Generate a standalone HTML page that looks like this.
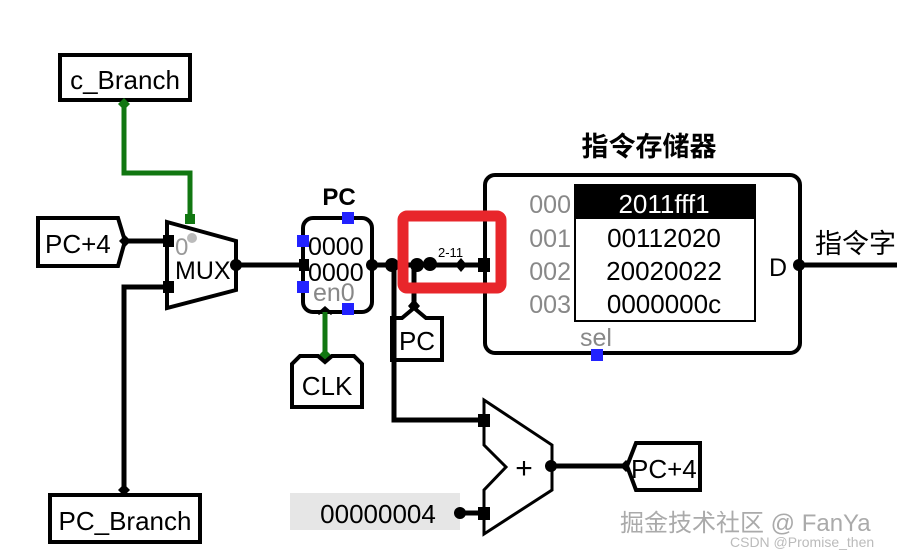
<!DOCTYPE html>
<html><head><meta charset="utf-8"><style>
html,body{margin:0;padding:0;background:#fff;width:897px;height:557px;overflow:hidden}
text{font-family:"Liberation Sans","Noto Sans CJK SC",sans-serif}
</style></head><body>
<svg width="897" height="557" viewBox="0 0 897 557" xmlns="http://www.w3.org/2000/svg">
<!-- c_Branch -->
<rect x="60" y="55" width="130" height="45" fill="#fff" stroke="#000" stroke-width="4"/>
<text x="125" y="89" font-size="26" text-anchor="middle">c_Branch</text>
<polyline points="124,103 124,173 190,173 190,220" fill="none" stroke="#117711" stroke-width="5"/>
<polygon points="124,98 130,104 124,110 118,104" fill="#117711"/>
<rect x="185" y="214" width="10" height="10" fill="#117711"/>
<!-- PC+4 left -->
<polygon points="38,218 118,218 125,241 118,266 38,266" fill="#fff" stroke="#000" stroke-width="4"/>
<text x="45" y="253" font-size="26">PC+4</text>
<line x1="125" y1="241" x2="170" y2="241" stroke="#000" stroke-width="5"/>
<polygon points="125,235 131,241 125,247 119,241" fill="#000"/>
<!-- MUX -->
<polygon points="167,222 236,241 236,290 167,308" fill="#fff" stroke="#000" stroke-width="4"/>
<rect x="163" y="235" width="11" height="12" fill="#000"/>
<rect x="163" y="281" width="11" height="12" fill="#000"/>
<text x="175" y="255" font-size="24" fill="#999">0</text>
<circle cx="192" cy="238" r="5" fill="#bbb"/>
<text x="175" y="279" font-size="25">MUX</text>
<polyline points="168,287 124,287 124,492" fill="none" stroke="#000" stroke-width="5"/>
<polygon points="124,484 130,490 124,496 118,490" fill="#000"/>
<rect x="50" y="495" width="150" height="47" fill="#fff" stroke="#000" stroke-width="4"/>
<text x="125" y="530" font-size="26" text-anchor="middle">PC_Branch</text>
<line x1="236" y1="265" x2="305" y2="265" stroke="#000" stroke-width="5"/>
<circle cx="236" cy="265" r="6" fill="#000"/>
<!-- PC register -->
<text x="339" y="205" font-size="24" font-weight="bold" text-anchor="middle">PC</text>
<rect x="303" y="218" width="69" height="94" rx="10" fill="#fff" stroke="#000" stroke-width="4"/>
<rect x="299" y="259" width="10" height="12" fill="#000"/>
<text x="308" y="255" font-size="25">0000</text>
<text x="308" y="281" font-size="25">0000</text>
<text x="313" y="301" font-size="25" fill="#888">en0</text>
<rect x="342" y="212" width="12" height="12" fill="#2222ff"/>
<rect x="297" y="235" width="12" height="12" fill="#2222ff"/>
<rect x="297" y="281" width="12" height="12" fill="#2222ff"/>
<rect x="342" y="303" width="12" height="12" fill="#2222ff"/>
<polyline points="318,314 325,308 332,314" fill="none" stroke="#000" stroke-width="3"/>
<line x1="325" y1="312" x2="325" y2="355" stroke="#117711" stroke-width="5"/>
<polygon points="325,349 331,355 325,361 319,355" fill="#117711"/>
<polygon points="292,407 292,364 300,356 318,356 325,362 332,356 354,356 362,364 362,407" fill="#fff" stroke="#000" stroke-width="4"/>
<text x="327" y="395" font-size="26" text-anchor="middle">CLK</text>
<!-- wire to memory -->
<line x1="372" y1="265" x2="486" y2="265" stroke="#000" stroke-width="5"/>
<circle cx="372" cy="265" r="6" fill="#000"/>
<circle cx="392" cy="265" r="7" fill="#000"/>
<circle cx="417" cy="265" r="7" fill="#000"/>
<circle cx="430" cy="264" r="7" fill="#000"/>
<polygon points="461,258 467,265 461,272 455,265" fill="#000"/>
<rect x="478" y="258" width="12" height="14" fill="#000"/>
<text x="438" y="257" font-size="13">2-11</text>
<line x1="414" y1="265" x2="414" y2="305" stroke="#000" stroke-width="5"/>
<polygon points="414,299 420,306 414,313 408,306" fill="#000"/>
<polygon points="392,360 392,318 402,318 414,308 426,318 442,318 442,360" fill="#fff" stroke="#000" stroke-width="4"/>
<text x="417" y="350" font-size="26" text-anchor="middle">PC</text>
<polyline points="394,265 394,420 486,420" fill="none" stroke="#000" stroke-width="5"/>
<!-- memory -->
<text x="649" y="156" font-size="27" font-weight="bold" text-anchor="middle">指令存储器</text>
<rect x="485" y="175" width="315" height="178" rx="10" fill="none" stroke="#000" stroke-width="4"/>
<rect x="575" y="185" width="180" height="136" fill="#fff" stroke="#000" stroke-width="2"/>
<rect x="575" y="185" width="180" height="34" fill="#000"/>
<g font-size="26" text-anchor="middle">
<text x="664" y="213" fill="#fff">2011fff1</text>
<text x="664" y="247">00112020</text>
<text x="664" y="280">20020022</text>
<text x="664" y="313">0000000c</text>
</g>
<g font-size="25" fill="#888" text-anchor="end">
<text x="571" y="213">000</text>
<text x="571" y="247">001</text>
<text x="571" y="280">002</text>
<text x="571" y="313">003</text>
</g>
<text x="596" y="346" font-size="25" fill="#888" text-anchor="middle">sel</text>
<rect x="591" y="349" width="12" height="12" fill="#2222ff"/>
<text x="769" y="276" font-size="25">D</text>
<line x1="800" y1="265" x2="897" y2="265" stroke="#000" stroke-width="5"/>
<circle cx="799" cy="265" r="6" fill="#000"/>
<text x="815" y="253" font-size="27">指令字</text>
<!-- red highlight -->
<rect x="403" y="216" width="98" height="72" rx="4" fill="none" stroke="#e8262b" stroke-width="11"/>
<!-- adder -->
<polygon points="484,400 552,445 552,490 484,534 484,490 506,467 484,445" fill="#fff" stroke="#000" stroke-width="3"/>
<rect x="478" y="414" width="12" height="13" fill="#000"/>
<rect x="478" y="507" width="12" height="13" fill="#000"/>
<text x="524" y="478" font-size="30" text-anchor="middle">+</text>
<line x1="552" y1="466" x2="626" y2="466" stroke="#000" stroke-width="5"/>
<circle cx="551" cy="466" r="6" fill="#000"/>
<polygon points="626,460 632,466 626,472 620,466" fill="#000"/>
<polygon points="627,466 636,443 700,443 700,490 636,490" fill="#fff" stroke="#000" stroke-width="4"/>
<text x="631" y="478" font-size="26">PC+4</text>
<rect x="290" y="493" width="170" height="37" fill="#e6e6e6"/>
<text x="378" y="523" font-size="26" text-anchor="middle">00000004</text>
<line x1="460" y1="513" x2="484" y2="513" stroke="#000" stroke-width="5"/>
<circle cx="460" cy="513" r="6" fill="#000"/>
<!-- watermark -->
<text x="620" y="531" font-size="24" fill="#aaa">掘金技术社区 @ FanYa</text>
<text x="730" y="547" font-size="14" fill="#bbb">CSDN @Promise_then</text>
</svg>
</body></html>
